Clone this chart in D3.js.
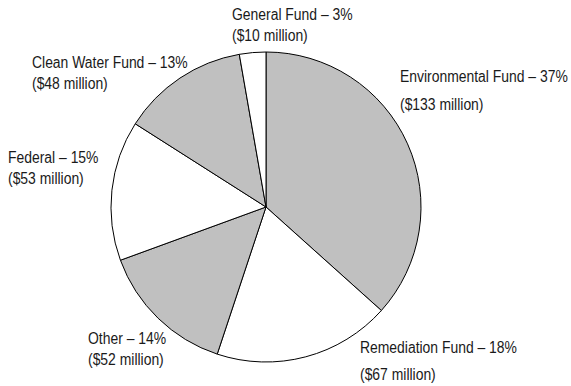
<!DOCTYPE html>
<html>
<head>
<meta charset="utf-8">
<script src="https://cdn.jsdelivr.net/npm/d3@7"></script>
<style>
  html, body { margin: 0; padding: 0; background: #fff; }
  svg text { font-family: "Liberation Sans", Arial, sans-serif; font-size: 16px; fill: #1a1a1a; }
</style>
</head>
<body>
<svg id="chart" width="571" height="386"></svg>
<script>
// Funding sources, in millions of dollars, clockwise from 12 o'clock
const categories = ["Environmental Fund", "Remediation Fund", "Other", "Federal", "Clean Water Fund", "General Fund"];
const values = [133, 67, 52, 53, 48, 10];
const fills = ["#c0c0c0", "#ffffff", "#c0c0c0", "#ffffff", "#c0c0c0", "#ffffff"];

// Label anchor (left x, first baseline y) and line gap for each slice label
const labelX = [400, 360, 88, 8, 32, 232];
const labelY = [82, 353, 344, 163, 68, 20];
const labelGap = [28, 27, 21, 21, 21, 21];

const width = 571, height = 386;
const cx = 266, cy = 207, radius = 155;
const narrow = 0.87; // horizontal squeeze for a condensed typeface look

const svg = d3.select("#chart");
const total = d3.sum(values);

const pie = d3.pie().sort(null).value(d => d)(values);
const arc = d3.arc().innerRadius(0).outerRadius(radius);

const g = svg.append("g").attr("transform", `translate(${cx},${cy})`);
g.selectAll("path")
  .data(pie)
  .join("path")
  .attr("d", arc)
  .attr("fill", (d, i) => fills[i])
  .attr("stroke", "#000")
  .attr("stroke-width", 1)
  .attr("stroke-linejoin", "round");

const labels = svg.append("g").selectAll("text")
  .data(categories)
  .join("text")
  .attr("transform", (d, i) => `translate(${labelX[i]},${labelY[i]}) scale(${narrow},1)`);

labels.append("tspan")
  .attr("x", 0)
  .text((d, i) => `${d} \u2013 ${Math.round(values[i] / total * 100)}%`);
labels.append("tspan")
  .attr("x", 0)
  .attr("dy", (d, i) => labelGap[i])
  .text((d, i) => `($${values[i]} million)`);
</script>
</body>
</html>
